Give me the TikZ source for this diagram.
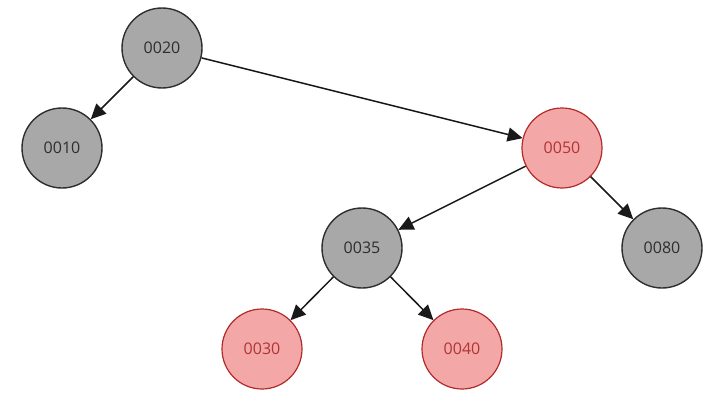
\documentclass[tikz,border=0pt]{standalone}
\usepackage{fontspec}
\setmainfont{Open Sans}
\usetikzlibrary{arrows.meta}
\definecolor{gfill}{HTML}{A8A8A8}
\definecolor{gline}{HTML}{2E2E2E}
\definecolor{pfill}{HTML}{F4A7A7}
\definecolor{pline}{HTML}{B22A2A}
\definecolor{ptext}{HTML}{B03535}
\begin{document}
\begin{tikzpicture}[x=1pt,y=-1pt,
  blacknode/.style={circle,draw=gline,fill=gfill,line width=1.4pt,minimum size=80pt,inner sep=0pt,font=\fontsize{16}{18}\selectfont,text=gline},
  rednode/.style={circle,draw=pline,fill=pfill,line width=1.2pt,minimum size=80pt,inner sep=0pt,font=\fontsize{16}{18}\selectfont,text=ptext},
  edge/.style={draw=black!90,line width=1.5pt,-{Triangle[length=15pt,width=14pt]}}]
\useasboundingbox (0,0) rectangle (712,404);
\node[blacknode] (n20) at (162,48) {0020};
\node[blacknode] (n10) at (62,148) {0010};
\node[rednode] (n50) at (562,148) {0050};
\node[blacknode] (n35) at (362,248) {0035};
\node[blacknode] (n80) at (662,248) {0080};
\node[rednode] (n30) at (262,349) {0030};
\node[rednode] (n40) at (462,349) {0040};
\draw[edge] (n20) -- (n10);
\draw[edge] (n20) -- (n50);
\draw[edge] (n50) -- (n35);
\draw[edge] (n50) -- (n80);
\draw[edge] (n35) -- (n30);
\draw[edge] (n35) -- (n40);
\end{tikzpicture}
\end{document}
